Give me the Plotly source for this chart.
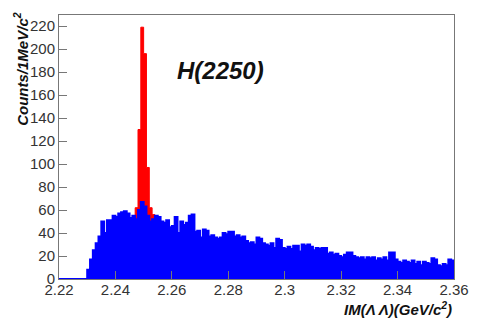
import plotly.graph_objects as go

# Bin edges (1 MeV bins), lower edge of each bin in GeV/c^2
bin_start = 2.220
bin_width = 0.001

# Blue histogram: counts for bins starting at 2.220 (first 10 bins empty)
blue_counts = [0, 0, 0, 0, 0, 0, 0, 0, 0, 0,
               8, 17, 25, 31, 37, 50, 40, 51, 51, 55,
               54, 57, 58, 59, 57, 53, 55, 52, 60, 67,
               63, 55, 50, 52, 55, 54, 50, 49, 51, 45,
               46, 54, 40, 50, 47, 49, 55, 56, 41, 42,
               36, 43, 42, 37, 38, 36, 35, 36, 40, 39,
               41, 41, 37, 38, 36, 37, 33, 31, 32, 30,
               36, 35, 31, 30, 29, 31, 27, 35, 34, 27,
               26, 28, 26, 29, 29, 24, 30, 29, 30, 28,
               25, 27, 26, 27, 27, 22, 23, 21, 22, 20,
               19, 21, 23, 23, 20, 19, 18, 19, 17, 19,
               18, 19, 16, 18, 17, 19, 16, 23, 23, 17,
               15, 14, 16, 15, 14, 16, 13, 15, 12, 15,
               14, 13, 18, 17, 12, 11, 13, 12, 17, 16]

# Red histogram (signal peak): lower bin edges and counts
red_bins = [2.246, 2.247, 2.248, 2.249, 2.250, 2.251, 2.252, 2.253]
red_counts = [50, 62, 130, 219, 196, 97, 62, 56]

x_ticks = [2.22, 2.24, 2.26, 2.28, 2.30, 2.32, 2.34, 2.36]
x_tick_labels = ["2.22", "2.24", "2.26", "2.28", "2.3", "2.32", "2.34", "2.36"]
y_ticks = list(range(0, 221, 20))


def step_xy(lefts, counts, width):
    xs, ys = [lefts[0]], [0]
    for l, c in zip(lefts, counts):
        xs += [l, l + width]
        ys += [c, c]
    xs.append(lefts[-1] + width)
    ys.append(0)
    return xs, ys


blue_lefts = [bin_start + bin_width * i for i in range(len(blue_counts))]
bx, by = step_xy(blue_lefts, blue_counts, bin_width)
rx, ry = step_xy(red_bins, red_counts, bin_width)

fig = go.Figure()
fig.add_trace(go.Scatter(x=rx, y=ry, mode="lines", fill="toself",
                         fillcolor="#ff0000", line=dict(color="#ff0000", width=1),
                         showlegend=False))
fig.add_trace(go.Scatter(x=bx, y=by, mode="lines", fill="toself",
                         fillcolor="#0000ff", line=dict(color="#0000ff", width=2),
                         showlegend=False))

font_fam = "Liberation Sans, Arial, sans-serif"
fig.update_layout(
    width=481, height=322,
    margin=dict(l=59, r=16, t=15, b=43),
    paper_bgcolor="white", plot_bgcolor="white",
    font=dict(family=font_fam, size=15, color="#222222"),
    xaxis=dict(range=[2.22, 2.36], tickvals=x_ticks, ticktext=x_tick_labels,
               ticks="inside", ticklen=8, tickcolor="#777777",
               showline=True, linecolor="#777777", linewidth=1, mirror=True,
               showgrid=False, zeroline=False, ticklabelstandoff=-3,
               tickfont=dict(size=15, color="#333333")),
    yaxis=dict(range=[0, 229.6], tickvals=y_ticks,
               ticks="inside", ticklen=8, tickcolor="#777777",
               showline=True, linecolor="#777777", linewidth=1, mirror=True,
               showgrid=False, zeroline=False,
               tickfont=dict(size=15, color="#333333")),
    annotations=[
        dict(text="<b><i>H(2250)</i></b>", xref="paper", yref="paper",
             x=0.41, y=0.79, xanchor="center", yanchor="middle", showarrow=False,
             font=dict(size=24, color="#111111", family=font_fam)),
        dict(text="<b><i>Counts/1MeV/c<sup>2</sup></i></b>", xref="paper", yref="paper",
             x=-0.096, y=1.02, xanchor="center", yanchor="top", textangle=-90,
             showarrow=False, font=dict(size=15, color="#111111", family=font_fam)),
        dict(text="<b><i>IM(Λ Λ)(GeV/c<sup>2</sup>)</i></b>", xref="paper", yref="paper",
             x=1.0, y=-0.068, xanchor="right", yanchor="top",
             showarrow=False, font=dict(size=15, color="#111111", family=font_fam)),
    ],
)

fig.write_html("out.html")
